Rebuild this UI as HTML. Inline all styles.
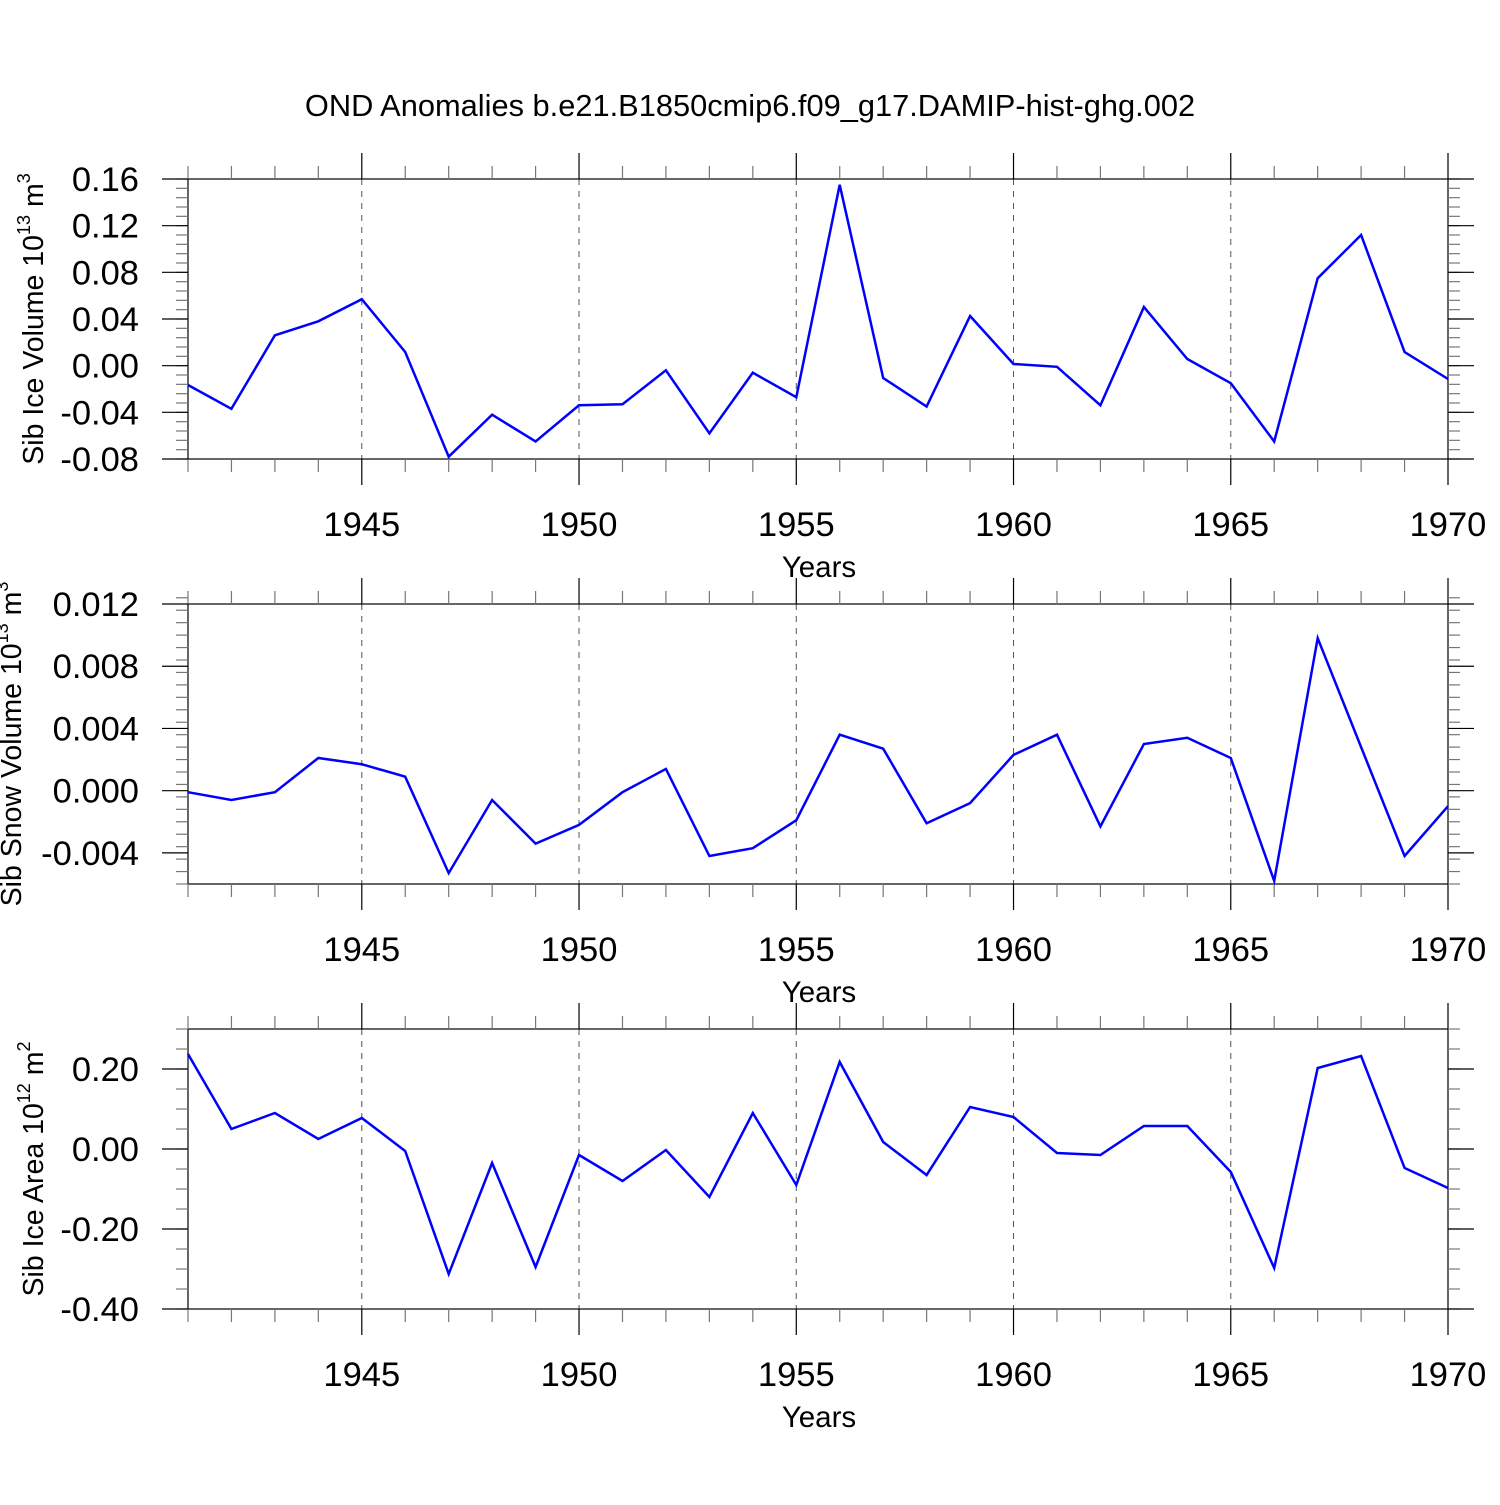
<!DOCTYPE html>
<html><head><meta charset="utf-8"><style>
body{margin:0;background:#fff}
svg text{font-family:"Liberation Sans",sans-serif;fill:#000}
</style></head><body>
<svg id="chart" width="1500" height="1500" xmlns="http://www.w3.org/2000/svg">
<text x="750" y="116" font-size="30.8" text-anchor="middle">OND Anomalies b.e21.B1850cmip6.f09_g17.DAMIP-hist-ghg.002</text>
</svg>
<script>
const years = [1941,1942,1943,1944,1945,1946,1947,1948,1949,1950,1951,1952,1953,1954,1955,1956,1957,1958,1959,1960,1961,1962,1963,1964,1965,1966,1967,1968,1969,1970];
const iceVolume = [-0.0166,-0.037,0.026,0.038,0.057,0.0117,-0.078,-0.042,-0.065,-0.034,-0.033,-0.004,-0.058,-0.006,-0.027,0.155,-0.0106,-0.035,0.0426,0.0014,-0.001,-0.034,0.0503,0.0057,-0.015,-0.065,0.075,0.112,0.0117,-0.0114];
const snowVolume = [-0.0001,-0.0006,-0.0001,0.0021,0.0017,0.0009,-0.0053,-0.0006,-0.0034,-0.0022,-0.0001,0.0014,-0.0042,-0.0037,-0.0019,0.0036,0.0027,-0.0021,-0.0008,0.0023,0.0036,-0.0023,0.003,0.0034,0.0021,-0.0058,0.0098,0.0028,-0.0042,-0.001];
const iceArea = [0.2375,0.05,0.09,0.025,0.0775,-0.005,-0.3125,-0.035,-0.295,-0.015,-0.08,-0.0025,-0.12,0.09,-0.09,0.2175,0.0175,-0.065,0.105,0.08,-0.01,-0.015,0.0575,0.0575,-0.0575,-0.2975,0.2025,0.2325,-0.0475,-0.0975];
const xTickLabels = [1945,1950,1955,1960,1965,1970];
const iceVolTicks = [-0.08,-0.04,0.00,0.04,0.08,0.12,0.16];
const snowTicks = [-0.004,0.000,0.004,0.008,0.012];
const areaTicks = [-0.40,-0.20,0.00,0.20];

const NS="http://www.w3.org/2000/svg";
const svg=document.getElementById('chart');
function mk(tag,attrs,parent){const e=document.createElementNS(NS,tag);for(const k in attrs)e.setAttribute(k,attrs[k]);(parent||svg).appendChild(e);return e;}
const X0=188,X1=1448,YMIN=1941,YMAX=1970;
const xs=v=>X0+(v-YMIN)/(YMAX-YMIN)*(X1-X0);

function panel(cfg){
  const g=mk('g',{});
  
  
  const top=cfg.top,bot=top+280;
  const ys=v=>bot-(v-cfg.min)/(cfg.max-cfg.min)*280;
  xTickLabels.forEach(y=>{ if(y<YMAX){const l=mk('line',{x1:xs(y),x2:xs(y),y1:top,y2:bot,stroke:'#555','stroke-width':1,'stroke-dasharray':'6,6'},g);
    
    }});
  const fr=mk('rect',{x:X0,y:top,width:X1-X0,height:280,fill:'none',stroke:'#000','stroke-width':1.2},g);
  
  
  for(let y=YMIN;y<=YMAX;y++){const maj=(y%5===0);const len=maj?26:13;const c=maj?'#000':'#777';
    mk('line',{x1:xs(y),x2:xs(y),y1:top,y2:top-len,stroke:c,'stroke-width':1.2},g);
    mk('line',{x1:xs(y),x2:xs(y),y1:bot,y2:bot+len,stroke:c,'stroke-width':1.2},g);}
  xTickLabels.forEach(y=>{const t=mk('text',{x:xs(y),y:bot+77,'font-size':34.5,'text-anchor':'middle'},g);t.textContent=y;
    
    });
  const xt=mk('text',{x:819,y:bot+118,'font-size':29.5,'text-anchor':'middle'},g);xt.textContent='Years';
  
  
  const n=Math.round((cfg.max-cfg.min)/cfg.minor);
  for(let i=0;i<=n;i++){const v=cfg.min+i*cfg.minor;const y=ys(v);
    mk('line',{x1:X0,x2:X0-12,y1:y,y2:y,stroke:'#777','stroke-width':1.2},g);
    mk('line',{x1:X1,x2:X1+12,y1:y,y2:y,stroke:'#777','stroke-width':1.2},g);}
  cfg.ticks.forEach(v=>{const y=ys(v);
    mk('line',{x1:X0,x2:X0-26,y1:y,y2:y,stroke:'#000','stroke-width':1.2},g);
    mk('line',{x1:X1,x2:X1+26,y1:y,y2:y,stroke:'#000','stroke-width':1.2},g);
    const t=mk('text',{x:139,y:y+12,'font-size':34.5,'text-anchor':'end'},g);t.textContent=v.toFixed(cfg.dec);
    
    });
  const yt=mk('text',{x:0,y:0,'font-size':28.5,'text-anchor':'middle',transform:`translate(${cfg.tx},${top+cfg.ty}) rotate(-90)`},g);
  yt.innerHTML=cfg.title;
  
  
  const pts=years.map((yr,i)=>xs(yr).toFixed(1)+','+ys(cfg.data[i]).toFixed(1)).join(' ');
  const pl=mk('polyline',{points:pts,fill:'none',stroke:'#0000ff','stroke-width':2.5,'stroke-linejoin':'miter'},g);
  
  
}
panel({name:'ice-volume-panel',top:179,min:-0.08,max:0.16,minor:0.008,ticks:iceVolTicks,dec:2,data:iceVolume,tx:43,ty:140,
  title:'Sib Ice Volume 10<tspan dy="-13" font-size="18">13</tspan><tspan dy="13"> m</tspan><tspan dy="-13" font-size="18">3</tspan>'});
panel({name:'snow-volume-panel',top:604,min:-0.006,max:0.012,minor:0.0008,ticks:snowTicks,dec:3,data:snowVolume,tx:21,ty:140,
  title:'Sib Snow Volume 10<tspan dy="-13" font-size="18">13</tspan><tspan dy="13"> m</tspan><tspan dy="-13" font-size="18">3</tspan>'});
panel({name:'ice-area-panel',top:1029,min:-0.4,max:0.3,minor:0.05,ticks:areaTicks,dec:2,data:iceArea,tx:43,ty:140,
  title:'Sib Ice Area 10<tspan dy="-13" font-size="18">12</tspan><tspan dy="13"> m</tspan><tspan dy="-13" font-size="18">2</tspan>'});
</script>
</body></html>
